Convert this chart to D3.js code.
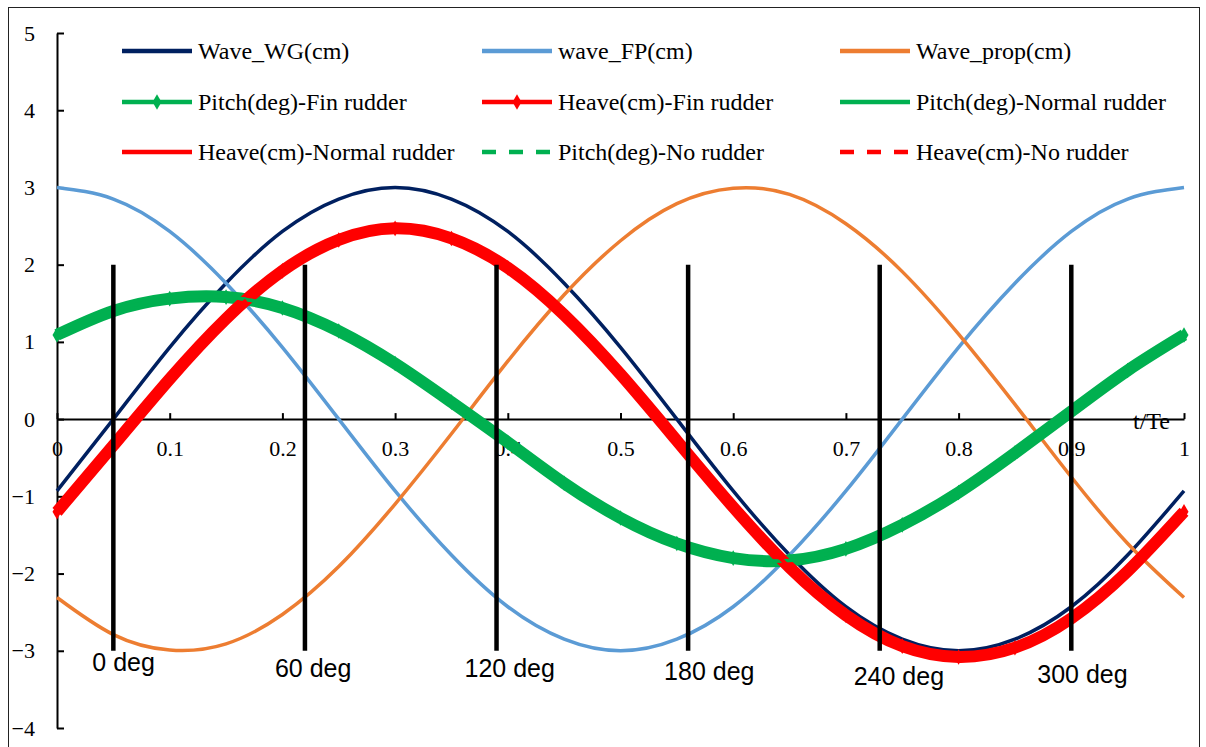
<!DOCTYPE html>
<html>
<head>
<meta charset="utf-8">
<script src="https://cdn.jsdelivr.net/npm/d3@7"></script>
<style>
  body { margin: 0; background: #fff; }
  svg { display: block; }
</style>
</head>
<body>
<svg width="1206" height="747"></svg>
<script>
// t/Te sample points
var tVals = [0, 0.05, 0.10, 0.15, 0.20, 0.25, 0.30, 0.35, 0.40, 0.45, 0.50,
             0.55, 0.60, 0.65, 0.70, 0.75, 0.80, 0.85, 0.90, 0.95, 1.00];

var waveWG   = [-0.93, 0, 0.93, 1.76, 2.43, 2.85, 3.00, 2.85, 2.43, 1.76, 0.93,
                0, -0.93, -1.76, -2.43, -2.85, -3.00, -2.85, -2.43, -1.76, -0.93];
var waveFP   = [3.00, 2.85, 2.43, 1.76, 0.93, 0, -0.93, -1.76, -2.43, -2.85, -3.00,
                -2.85, -2.43, -1.76, -0.93, 0, 0.93, 1.76, 2.43, 2.85, 3.00];
var waveProp = [-2.31, -2.79, -2.99, -2.91, -2.53, -1.91, -1.10, -0.19, 0.75, 1.61, 2.31,
                2.79, 2.99, 2.91, 2.53, 1.91, 1.10, 0.19, -0.75, -1.61, -2.31];
var pitchFin = [1.09, 1.40, 1.56, 1.58, 1.44, 1.14, 0.72, 0.22, -0.30, -0.83, -1.28,
                -1.61, -1.80, -1.83, -1.68, -1.37, -0.95, -0.44, 0.10, 0.63, 1.09];
var heaveFin = [-1.20, -0.34, 0.52, 1.30, 1.92, 2.32, 2.47, 2.34, 1.96, 1.35, 0.58,
                -0.28, -1.14, -1.92, -2.54, -2.94, -3.08, -2.96, -2.58, -1.97, -1.20];
// the normal / no rudder runs sit under the fin rudder curves
var pitchNormal = pitchFin.slice();
var heaveNormal = heaveFin.slice();
var pitchNo = pitchFin.slice();
var heaveNo = heaveFin.slice();

var xTicks = [0, 0.1, 0.2, 0.3, 0.4, 0.5, 0.6, 0.7, 0.8, 0.9, 1];
var xTickLabels = ["0", "0.1", "0.2", "0.3", "0.4", "0.5", "0.6", "0.7", "0.8", "0.9", "1"];
var yTicks = [-4, -3, -2, -1, 0, 1, 2, 3, 4, 5];

// phase markers
var phaseT = [0.05, 0.22, 0.39, 0.56, 0.73, 0.90];
var phaseLabels = ["0 deg", "60 deg", "120 deg", "180 deg", "240 deg", "300 deg"];

var series = [
  {name: "Wave_WG(cm)", values: waveWG, color: "#002060", width: 3.5},
  {name: "wave_FP(cm)", values: waveFP, color: "#5B9BD5", width: 3.5},
  {name: "Wave_prop(cm)", values: waveProp, color: "#ED7D31", width: 3.5},
  {name: "Pitch(deg)-Fin rudder", values: pitchFin, color: "#00B050", width: 12, marker: true},
  {name: "Heave(cm)-Fin rudder", values: heaveFin, color: "#FF0000", width: 12, marker: true},
  {name: "Pitch(deg)-Normal rudder", values: pitchNormal, color: "#00B050", width: 3.5},
  {name: "Heave(cm)-Normal rudder", values: heaveNormal, color: "#FF0000", width: 3.5},
  {name: "Pitch(deg)-No rudder", values: pitchNo, color: "#00B050", width: 3.5, dash: "14,13"},
  {name: "Heave(cm)-No rudder", values: heaveNo, color: "#FF0000", width: 3.5, dash: "14,13"}
];

var svg = d3.select("svg");
var serif = "'Liberation Serif', 'Times New Roman', serif";
var sans = "'Liberation Sans', Arial, sans-serif";

// chart border
svg.append("rect")
  .attr("x", 8.5).attr("y", 7.5)
  .attr("width", 1191).attr("height", 780)
  .attr("fill", "none")
  .attr("stroke", "#222")
  .attr("stroke-width", 1);

var x = d3.scaleLinear().domain([0, 1]).range([57, 1184]);
var y = d3.scaleLinear().domain([-4, 5]).range([728, 33]);

// y axis
var yAxis = svg.append("g")
  .attr("transform", "translate(" + x(0) + ",0)")
  .call(d3.axisLeft(y).tickValues(yTicks).tickSizeInner(-7).tickSizeOuter(0).tickPadding(22));
yAxis.selectAll("path, line").attr("stroke", "#000").attr("stroke-width", 2);
yAxis.selectAll("text").attr("font-family", serif).attr("font-size", 22).attr("fill", "#000");

// x axis on the zero line
var xAxis = svg.append("g")
  .attr("transform", "translate(0," + y(0) + ")")
  .call(d3.axisBottom(x).tickValues(xTicks)
    .tickFormat(function(d, i) { return xTickLabels[i]; })
    .tickSizeInner(-6).tickSizeOuter(0).tickPadding(21));
xAxis.selectAll("path, line").attr("stroke", "#000").attr("stroke-width", 2);
xAxis.selectAll("text").attr("font-family", serif).attr("font-size", 22).attr("fill", "#000");

svg.append("text")
  .attr("x", 1133).attr("y", 429)
  .attr("font-family", serif).attr("font-size", 24)
  .text("t/Te");

// curves
var line = d3.line()
  .x(function(d, i) { return x(tVals[i]); })
  .y(function(d) { return y(d); })
  .curve(d3.curveNatural);

var diamond = d3.symbol().type(d3.symbolDiamond).size(70);

series.forEach(function(s) {
  svg.append("path")
    .datum(s.values)
    .attr("d", line)
    .attr("fill", "none")
    .attr("stroke", s.color)
    .attr("stroke-width", s.width)
    .attr("stroke-dasharray", s.dash || null);
  if (s.marker) {
    svg.append("g").selectAll("path")
      .data(s.values)
      .enter().append("path")
      .attr("d", diamond)
      .attr("transform", function(d, i) {
        return "translate(" + x(tVals[i]) + "," + y(d) + ")";
      })
      .attr("fill", s.color);
  }
});

// legend, three columns
var legCols = [122, 482, 840];
var legRows = [51, 102, 152];
series.forEach(function(s, i) {
  var g = svg.append("g")
    .attr("transform", "translate(" + legCols[i % 3] + "," + legRows[Math.floor(i / 3)] + ")");
  g.append("line")
    .attr("x1", 0).attr("x2", 70)
    .attr("stroke", s.color)
    .attr("stroke-width", 4.5)
    .attr("stroke-dasharray", s.dash || null);
  if (s.marker) {
    g.append("path").attr("d", diamond).attr("transform", "translate(35,0)").attr("fill", s.color);
  }
  g.append("text")
    .attr("x", 76).attr("dy", "0.33em")
    .attr("font-family", serif).attr("font-size", 24)
    .text(s.name);
});

// phase lines and labels
var labelDx = [-21, -30, -32, -24, -26, -34];
var labelY = [671, 677, 677, 680, 685, 683];
svg.append("g").selectAll("line")
  .data(phaseT)
  .enter().append("line")
  .attr("x1", function(d) { return x(d); })
  .attr("x2", function(d) { return x(d); })
  .attr("y1", y(2))
  .attr("y2", y(-3))
  .attr("stroke", "#000")
  .attr("stroke-width", 4.5);

svg.append("g").selectAll("text")
  .data(phaseLabels)
  .enter().append("text")
  .attr("x", function(d, i) { return x(phaseT[i]) + labelDx[i]; })
  .attr("y", function(d, i) { return labelY[i]; })
  .attr("font-family", sans)
  .attr("font-size", 25)
  .text(function(d) { return d; });
</script>
</body>
</html>
